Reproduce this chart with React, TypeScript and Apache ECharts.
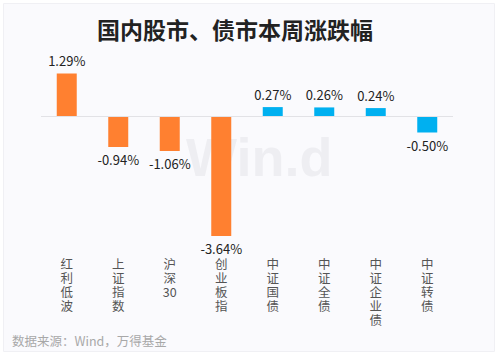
import React, { useEffect, useRef } from "react";
import * as echarts from "echarts";

const categories = ["红利低波", "上证指数", "沪深30", "创业板指", "中证国债", "中证全债", "中证企业债", "中证转债"];
const categoryLabels = ["红\n利\n低\n波", "上\n证\n指\n数", "沪\n深\n30", "创\n业\n板\n指", "中\n证\n国\n债", "中\n证\n全\n债", "中\n证\n企\n业\n债", "中\n证\n转\n债"];
const weeklyChange = [1.29, -0.94, -1.06, -3.64, 0.27, 0.26, 0.24, -0.5];
const groupType = ["stock", "stock", "stock", "stock", "bond", "bond", "bond", "bond"];
const groupColors: Record<string, string> = { stock: "#FF8030", bond: "#00B0F0" };

export default function App() {
  const ref = useRef<HTMLDivElement>(null);
  useEffect(() => {
    if (!ref.current) return;
    const chart = echarts.init(ref.current, undefined, { renderer: "svg" });
    const data = weeklyChange.map((v, i) => ({
      value: v,
      itemStyle: { color: groupColors[groupType[i]] },
      label: { position: v >= 0 ? "top" : "bottom" },
    }));
    chart.setOption({
      animation: false,
      backgroundColor: "#ffffff",
      title: {
        text: "国内股市、债市本周涨跌幅",
        left: 92,
        top: 12,
        textStyle: { fontSize: 23, fontWeight: "bold", color: "#222222", fontFamily: "Noto Sans CJK SC" },
      },
      graphic: [
        {
          type: "rect",
          left: 3,
          top: 3,
          shape: { width: 491, height: 348 },
          style: { fill: "#fafafd", stroke: "#f0f0f4", lineWidth: 1 },
          z: -10,
        },
        {
          type: "text",
          left: 186,
          top: 130,
          style: { text: "Win.d", fontSize: 54, fontWeight: "bold", fill: "#eeeef2", fontFamily: "Liberation Sans Narrow, Arial Narrow, sans-serif" },
          z: -5,
        },
        {
          type: "text",
          left: 12,
          top: 334,
          style: { text: "数据来源：Wind，万得基金", fontSize: 12.5, fill: "#a8a8a8", fontFamily: "Noto Sans CJK SC" },
        },
      ],
      grid: { left: 41, right: 47, top: 66.5, bottom: 107 },
      xAxis: {
        type: "category",
        data: categories,
        axisLine: { show: false, onZero: false },
        axisTick: { show: false },
        axisLabel: {
          margin: 8,
          interval: 0,
          formatter: (_v: string, idx: number) => categoryLabels[idx],
          fontSize: 12.5,
          lineHeight: 14,
          color: "#555555",
          fontFamily: "Noto Sans CJK SC",
          verticalAlign: "top",
        },
      },
      yAxis: {
        type: "value",
        min: -4,
        max: 1.5,
        show: false,
      },
      series: [
        {
          type: "bar",
          data,
          barWidth: 20,
          label: {
            show: true,
            formatter: (p: any) => `${p.value.toFixed(2)}%`,
            fontSize: 13,
            color: "#222222",
            distance: 6,
            fontFamily: "Noto Sans CJK SC",
          },
          markLine: {
            silent: true,
            symbol: ["none", "none"],
            label: { show: false },
            lineStyle: { color: "#e2e2e6", type: "solid", width: 1 },
            data: [{ yAxis: 0 }],
          },
        },
      ],
    });
    return () => chart.dispose();
  }, []);
  return <div ref={ref} style={{ position: "fixed", left: 0, top: 0, width: 500, height: 355 }} />;
}
